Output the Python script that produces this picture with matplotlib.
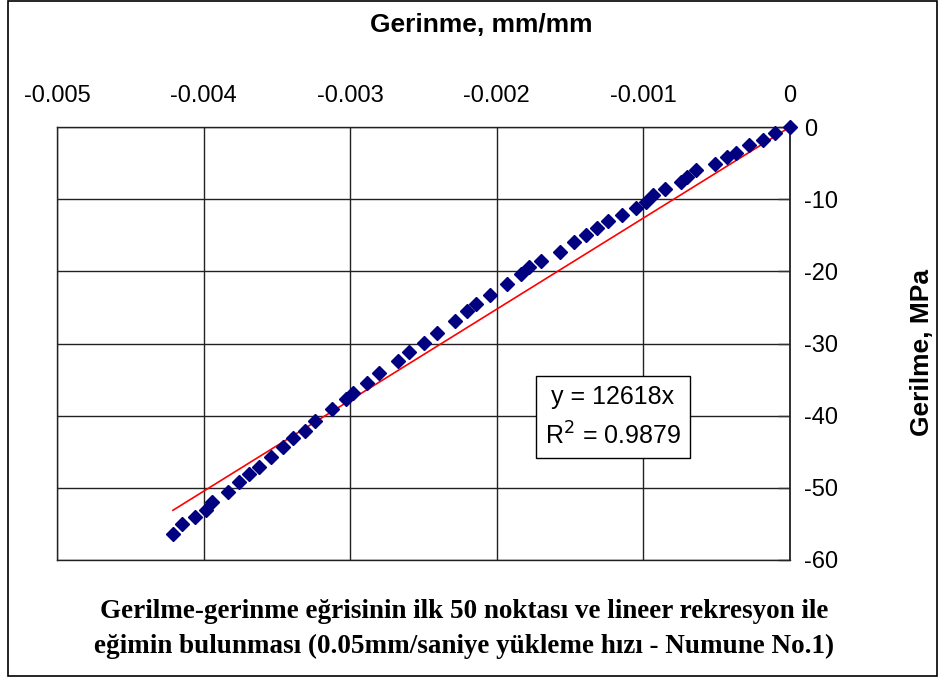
import numpy as np
import matplotlib
matplotlib.use("Agg")
import matplotlib.pyplot as plt
from matplotlib.patches import Rectangle

# Data (strain mm/mm, stress MPa)
strain = [0.0, -0.000102, -0.000184, -0.000280, -0.000368, -0.000430, -0.000512, -0.000641,
          -0.000703, -0.000744, -0.000853, -0.000935, -0.000982, -0.001050, -0.001146, -0.001241,
          -0.001317, -0.001392, -0.001473, -0.001569, -0.001698, -0.001780, -0.001835, -0.001930,
          -0.002046, -0.002142, -0.002203, -0.002285, -0.002408, -0.002497, -0.002599, -0.002674,
          -0.002804, -0.002885, -0.002981, -0.003029, -0.003124, -0.003240, -0.003308, -0.003390,
          -0.003458, -0.003540, -0.003622, -0.003690, -0.003759, -0.003834, -0.003943, -0.003984,
          -0.004059, -0.004147, -0.004209]
stress = [0.0, -0.83, -1.80, -2.49, -3.60, -4.16, -5.13, -5.96,
          -6.93, -7.62, -8.59, -9.42, -10.39, -11.22, -12.19, -13.03,
          -14.00, -14.96, -15.93, -17.32, -18.57, -19.40, -20.37, -21.75,
          -23.28, -24.53, -25.50, -26.88, -28.54, -29.93, -31.18, -32.42,
          -34.09, -35.47, -36.86, -37.69, -39.08, -40.74, -42.12, -43.09,
          -44.34, -45.73, -47.11, -48.08, -49.19, -50.58, -51.96, -53.07,
          -54.04, -55.01, -56.40]
slope = 12618
r2 = 0.9879
x_ticks = [-0.005, -0.004, -0.003, -0.002, -0.001, 0]
x_tick_labels = ["-0.005", "-0.004", "-0.003", "-0.002", "-0.001", "0"]
y_ticks = [0, -10, -20, -30, -40, -50, -60]
y_tick_labels = ["0", "-10", "-20", "-30", "-40", "-50", "-60"]

W, H = 946, 682
fig = plt.figure(figsize=(W / 100, H / 100), dpi=100)
fig.patch.set_facecolor("white")

L, R, T, B = 57, 790, 127, 560
ax = fig.add_axes([L / W, 1 - B / H, (R - L) / W, (B - T) / H])
ax.set_xlim(-0.005, 0)
ax.set_ylim(-60, 0)

ax.set_xticks(x_ticks)
ax.set_xticklabels(x_tick_labels)
ax.set_yticks(y_ticks)
ax.set_yticklabels(y_tick_labels)
ax.xaxis.tick_top()
ax.yaxis.tick_right()
ax.tick_params(axis="x", top=False, labelsize=17, pad=11,
               labelfontfamily="Liberation Sans")
ax.tick_params(axis="y", direction="in", length=9, width=1, color="#333333",
               labelsize=17, pad=10, labelfontfamily="Liberation Sans")
ax.grid(True, color="#222222", linewidth=1)
ax.set_axisbelow(True)
for s in ["left", "bottom", "top"]:
    ax.spines[s].set_color("#222222")
    ax.spines[s].set_linewidth(1)
ax.spines["right"].set_color("#222222")
ax.spines["right"].set_linewidth(1.3)

xs = np.array(strain)
xline = np.array([xs.min(), 0.0])
ax.plot(xline, slope * xline, color="red", linewidth=1.2, zorder=3)
ax.plot(strain, stress, linestyle="none", marker="D", markersize=7.2,
        color="#000080", markeredgecolor="#000080", zorder=4, clip_on=False)

# Equation box
ax.text(-0.001207, -40.2, "y = 12618x\nR$^2$ = 0.9879", fontsize=18,
        family="Liberation Sans", ha="center", va="center", linespacing=1.6,
        bbox=dict(boxstyle="square,pad=0.35", facecolor="white", edgecolor="black", linewidth=1),
        zorder=5)

fig.text(481 / W, 1 - 25 / H, "Gerinme, mm/mm", fontsize=19, fontweight="bold",
         family="Liberation Sans", ha="center", va="center")
fig.text(922 / W, 1 - 352 / H, "Gerilme, MPa", fontsize=19, fontweight="bold",
         family="Liberation Sans", ha="center", va="center", rotation=90)
fig.text(464 / W, 1 - 612 / H, "Gerilme-gerinme eğrisinin ilk 50 noktası ve lineer rekresyon ile",
         fontsize=19.5, fontweight="bold", family="Liberation Serif", ha="center", va="center")
fig.text(464 / W, 1 - 646 / H, "eğimin bulunması (0.05mm/saniye yükleme hızı - Numune No.1)",
         fontsize=19.5, fontweight="bold", family="Liberation Serif", ha="center", va="center")

fig.patches.append(Rectangle((8 / W, 1 - 676 / H), (937 - 8) / W, (676 - 1) / H,
                             transform=fig.transFigure, fill=False, edgecolor="black",
                             linewidth=1.2))

fig.savefig("out.png", dpi=100)
